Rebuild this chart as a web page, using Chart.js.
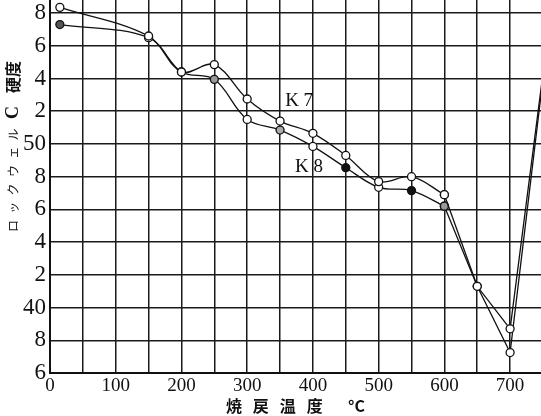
<!DOCTYPE html>
<html>
<head>
<meta charset="utf-8">
<script src="https://cdn.jsdelivr.net/npm/chart.js@4"></script>
<style>
  body { margin: 0; background: #fff; }
</style>
</head>
<body>
<canvas id="myChart" width="541" height="416"></canvas>
<script>
// tempering temperature (°C) and Rockwell C hardness for the two steels
const temps = [15, 150, 200, 250, 300, 350, 400, 450, 500, 550, 600, 650, 700, 750];
const k7 = [58.35, 56.6, 54.4, 54.85, 52.75, 51.4, 50.65, 49.3, 47.7, 48.0, 46.9, 41.3, 38.7, 54.3];
const k8 = [57.3, 56.5, 54.4, 53.95, 51.5, 50.85, 49.85, 48.55, 47.35, 47.15, 46.2, 41.3, 37.25, 54.0];
const curveLabels = [
  { text: 'K 7', x: 379, y: 52.6 },
  { text: 'K 8', x: 394, y: 48.6 }
];

// marker fills (K8 uses some solid / half-tone dots)
const k7Fill = temps.map(() => '#fff');
const k8Fill = ['#555', '#fff', '#fff', '#999', '#fff', '#aaa', '#fff', '#111', '#fff', '#111', '#999', '#fff', '#fff', '#fff'];

const xMax = 747;
const bend = 10; // from 600 °C on the curves are drawn as straight segments

function points(values, from, to) {
  return temps.slice(from, to).map((t, i) => ({ x: t, y: values[from + i] }));
}

function series(label, values, fills, from, to, tension) {
  return {
    label: label,
    data: points(values, from, to),
    tension: tension,
    borderColor: '#111',
    borderWidth: 1.3,
    pointRadius: c => (temps[from + c.dataIndex] > xMax ? 0 : 4),
    pointBorderWidth: 1.3,
    pointBorderColor: '#111',
    pointBackgroundColor: c => fills[from + c.dataIndex]
  };
}

const labelsPlugin = {
  id: 'labels',
  afterDraw(chart) {
    const c = chart.ctx;
    const xs = chart.scales.x, ys = chart.scales.y;
    c.save();
    c.fillStyle = '#111';
    c.textAlign = 'center';
    c.textBaseline = 'middle';
    c.font = '19px "Liberation Serif"';
    curveLabels.forEach(l => {
      c.fillText(l.text, xs.getPixelForValue(l.x), ys.getPixelForValue(l.y));
    });

    // vertical axis title, mixed type sizes
    c.translate(13, 0);
    c.rotate(-Math.PI / 2);
    c.textAlign = 'left';
    c.font = '12px "Noto Sans CJK JP"';
    c.letterSpacing = '6.3px';
    c.fillText('ロックウェル', -232, 0);
    c.letterSpacing = '0px';
    c.font = 'bold 18px "Liberation Serif"';
    c.fillText('C', -119, 0);
    c.font = 'bold 16px "Noto Sans CJK JP"';
    c.fillText('硬度', -93, 0);
    c.restore();
  }
};

const ctx = document.getElementById('myChart');

new Chart(ctx, {
  type: 'line',
  data: {
    datasets: [
      series('K7', k7, k7Fill, 0, bend + 1, 0.35),
      series('K7', k7, k7Fill, bend, temps.length, 0),
      series('K8', k8, k8Fill, 0, bend + 1, 0.35),
      series('K8', k8, k8Fill, bend, temps.length, 0)
    ]
  },
  options: {
    responsive: false,
    animation: false,
    layout: { padding: 0, autoPadding: false },
    plugins: {
      legend: { display: false },
      tooltip: { enabled: false }
    },
    scales: {
      x: {
        type: 'linear',
        min: 0,
        max: xMax,
        afterFit(scale) {
          scale.height = 43;
          scale.paddingLeft = 0;
          scale.paddingRight = 0;
        },
        ticks: {
          stepSize: 50,
          autoSkip: false,
          includeBounds: false,
          maxRotation: 0,
          padding: 2,
          color: '#111',
          font: { family: '"Liberation Serif"', size: 19 },
          callback: v => (v % 100 === 0 ? String(v) : '')
        },
        grid: { color: '#1a1a1a', lineWidth: 1.5, drawTicks: false },
        border: { color: '#111', width: 2 },
        title: {
          display: true,
          text: '焼   戻   温   度       °C',
          color: '#111',
          padding: 0,
          font: { family: '"Noto Sans CJK JP"', size: 16, weight: 'bold' }
        }
      },
      y: {
        min: 36,
        max: 58.8,
        afterFit(scale) {
          scale.width = 50;
          scale.paddingTop = 0;
          scale.paddingBottom = 0;
        },
        ticks: {
          stepSize: 2,
          includeBounds: false,
          padding: 4,
          color: '#111',
          font: { family: '"Liberation Serif"', size: 23 },
          callback: v => (v % 10 === 0 ? String(v) : String(v % 10))
        },
        grid: { color: '#1a1a1a', lineWidth: 1.5, drawTicks: false },
        border: { color: '#111', width: 2 }
      }
    }
  },
  plugins: [labelsPlugin]
});
</script>
</body>
</html>
